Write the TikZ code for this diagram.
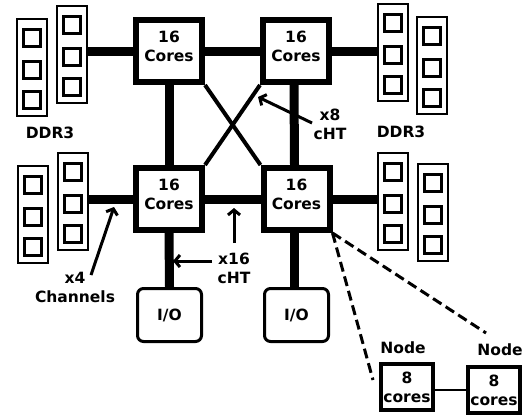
\documentclass[tikz,border=0pt]{standalone}
\usepackage{fontspec}
\setmainfont{DejaVu Sans}
\usetikzlibrary{arrows.meta}
\newcommand\dlbl{\bfseries\fontsize{15.5bp}{19bp}\selectfont}
\newcommand\memmod[3]{%
  \node[memrect] (#1) at (#2,#3+49.5) {};
  \foreach \o in {20,52,82} {\node[memsq] at (#2,#3+\o) {};}
}
\begin{document}
\begin{tikzpicture}[x=1bp,y=-1bp,
  core/.style={draw,line width=6bp,minimum width=66bp,minimum height=62bp,inner sep=0pt,align=center,font=\dlbl,text depth=10bp},
  memrect/.style={draw,line width=2bp,minimum width=30bp,minimum height=97bp,inner sep=0pt},
  memsq/.style={draw,line width=3bp,minimum size=17bp,inner sep=0pt},
  iobox/.style={draw,line width=3bp,rounded corners=6bp,minimum width=64bp,minimum height=53bp,inner sep=0pt,font=\dlbl},
  nodebox/.style={draw,line width=4bp,minimum width=52bp,minimum height=46bp,inner sep=0pt,align=center,font=\dlbl},
  txt/.style={inner sep=0pt,align=center,font=\dlbl},
  bus/.style={line width=9bp},
  xline/.style={line width=4bp},
  dashconn/.style={line width=3bp,dash pattern=on 10bp off 5bp},
  ann/.style={line width=3bp,-{Straight Barb[length=5bp,width=12bp]}},
]
\useasboundingbox (0,0) rectangle (526,418);
% core boxes
\node[core] (tl) at (169,51) {16\\Cores};
\node[core] (tr) at (296,51) {16\\Cores};
\node[core] (bl) at (169,199) {16\\Cores};
\node[core] (br) at (296.5,199) {16\\Cores};
% memory modules
\memmod{mlt1}{32}{18}
\memmod{mlt2}{71.5}{5}
\memmod{mrt1}{392.5}{3}
\memmod{mrt2}{431.5}{16}
\memmod{mlb1}{33}{165}
\memmod{mlb2}{73}{152}
\memmod{mrb1}{393}{152}
\memmod{mrb2}{433}{163}
% I/O
\node[iobox] (iol) at (169.5,315) {I/O};
\node[iobox] (ior) at (296.5,315) {I/O};
% nodes
\node[nodebox] (n1) at (407,387) {8\\cores};
\node[nodebox] (n2) at (494,390) {8\\cores};
\node[txt] (n1lbl) at (403,348) {Node};
\node[txt] (n2lbl) at (500,350) {Node};
% labels
\node[txt] (ddrl) at (50,133) {DDR3};
\node[txt] (ddrr) at (401,132) {DDR3};
\node[txt] (x8) at (330,124) {x8\\cHT};
\node[txt] (x16) at (234,268) {x16\\cHT};
\node[txt] (x4) at (75,287) {x4\\Channels};
% buses
\draw[bus] (tl) -- (tr);
\draw[bus] (bl) -- (br);
\draw[bus] (tl) -- (bl);
\draw[bus] ([xshift=-2bp]tr.south) -- ([xshift=-2bp]br.north);
\draw[xline] (tl.south east) -- (br.north west);
\draw[xline] (tr.south west) -- (bl.north east);
\draw[bus] (tl.west) -- (tl.west -| mlt2.east);
\draw[bus] (tr.east) -- (tr.east -| mrt1.west);
\draw[bus] (bl.west) -- (bl.west -| mlb2.east);
\draw[bus] (br.east) -- (br.east -| mrb1.west);
\draw[bus] (bl.south) -- (iol.north);
\draw[bus] ([xshift=-2bp]br.south) -- ([xshift=-2bp]ior.north);
\draw[line width=2.5bp] (n1.east |- n2.west) -- (n2.west);
% dashed zoom lines
\coordinate (d1) at (373,380);
\coordinate (d2) at (486,333);
\draw[dashconn] (br.south east) -- (d1);
\draw[dashconn] (br.south east) -- (d2);
% annotation arrows
\coordinate (a8s) at (312,123);
\coordinate (a8t) at (258,97);
\draw[ann] (a8s) -- (a8t);
\coordinate (a4s) at (91,275);
\coordinate (a4t) at (114,207);
\draw[ann] (a4s) -- (a4t);
\coordinate (a16s) at (212,261);
\coordinate (a16t) at (173,261);
\draw[ann] (a16s) -- (a16t);
\coordinate (a16vs) at (234,243);
\coordinate (a16vt) at (234,208);
\draw[ann] (a16vs) -- (a16vt);
\end{tikzpicture}
\end{document}
